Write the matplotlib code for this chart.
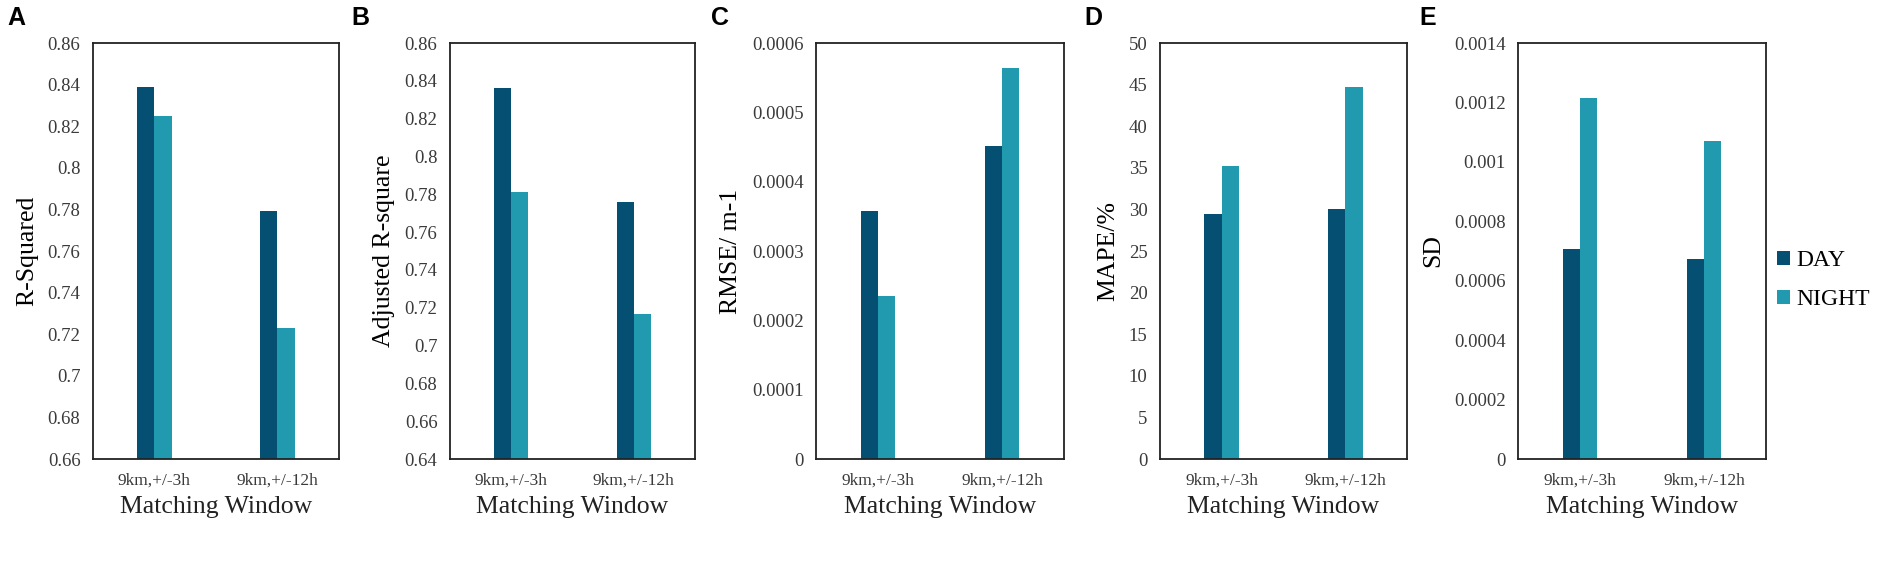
import numpy as np
import matplotlib
matplotlib.use("Agg")
import matplotlib.pyplot as plt
from matplotlib.ticker import FuncFormatter

windows = ["9km,+/-3h", "9km,+/-12h"]
series = ["DAY", "NIGHT"]

r_squared_day = [0.839, 0.779]
r_squared_night = [0.825, 0.723]
adj_r_square_day = [0.836, 0.776]
adj_r_square_night = [0.781, 0.7165]
rmse_day = [0.000357, 0.000451]
rmse_night = [0.000235, 0.000564]
mape_day = [29.4, 30.0]
mape_night = [35.2, 44.7]
sd_day = [0.000708, 0.000673]
sd_night = [0.001214, 0.001069]

panel_letters = ["A", "B", "C", "D", "E"]
y_labels = ["R-Squared", "Adjusted R-square", "RMSE/ m-1", "MAPE/%", "SD"]
y_limits = [(0.66, 0.86), (0.64, 0.86), (0, 0.0006), (0, 50), (0, 0.0014)]
y_steps = [0.02, 0.02, 0.0001, 5, 0.0002]

day_color = "#054f72"
night_color = "#2199ae"

plt.rcParams['font.family'] = ['Liberation Serif', 'DejaVu Serif']

fig = plt.figure(figsize=(18.81, 5.67), dpi=100)

# axes boxes in pixels (left, width)
boxes = [(93, 246), (450, 245), (816, 248), (1160, 247), (1518, 248)]
letter_x = [7, 351, 711, 1084, 1419]
W, H = 1881.0, 567.0

data = [
    (r_squared_day, r_squared_night),
    (adj_r_square_day, adj_r_square_night),
    (rmse_day, rmse_night),
    (mape_day, mape_night),
    (sd_day, sd_night),
]

x = np.arange(len(windows))
width = 0.14

for i, (day, night) in enumerate(data):
    left, w = boxes[i]
    ax = fig.add_axes([left / W, 1 - 459 / H, w / W, 416 / H])
    ax.bar(x - width / 2, day, width, color=day_color, label=series[0])
    ax.bar(x + width / 2, night, width, color=night_color, label=series[1])
    lo, hi = y_limits[i]
    ax.set_ylim(lo, hi)
    ax.set_yticks(np.arange(lo, hi + y_steps[i] / 2, y_steps[i]))
    ax.yaxis.set_major_formatter(FuncFormatter(lambda v, p: "{:g}".format(round(v, 6))))
    ax.set_xlim(-0.5, 1.5)
    ax.set_xticks(x, windows)
    ax.tick_params(axis='both', length=0)
    ax.tick_params(axis='y', labelsize=13.5, pad=9, labelcolor="#3a3a3a")
    ax.tick_params(axis='x', labelsize=12.5, pad=10, labelcolor="#3a3a3a")
    for s in ax.spines.values():
        s.set_linewidth(1.3)
        s.set_color("#222222")
    ax.set_ylabel(y_labels[i], fontsize=18.5, labelpad=7)
    ax.set_xlabel("Matching Window", fontsize=18.5, labelpad=5, color="#222222")
    fig.text(letter_x[i] / W, 1 - 6 / H, panel_letters[i], fontsize=18,
             fontweight='bold', family='Liberation Sans', va='top', ha='left')
    if i == 4:
        ax.legend(loc='center left', bbox_to_anchor=(1.045, 0.43), frameon=False,
                  fontsize=17, handlelength=0.55, handleheight=0.55,
                  handletextpad=0.25, labelspacing=0.75, borderaxespad=0,
                  borderpad=0)

fig.savefig("out.png", dpi=100)
